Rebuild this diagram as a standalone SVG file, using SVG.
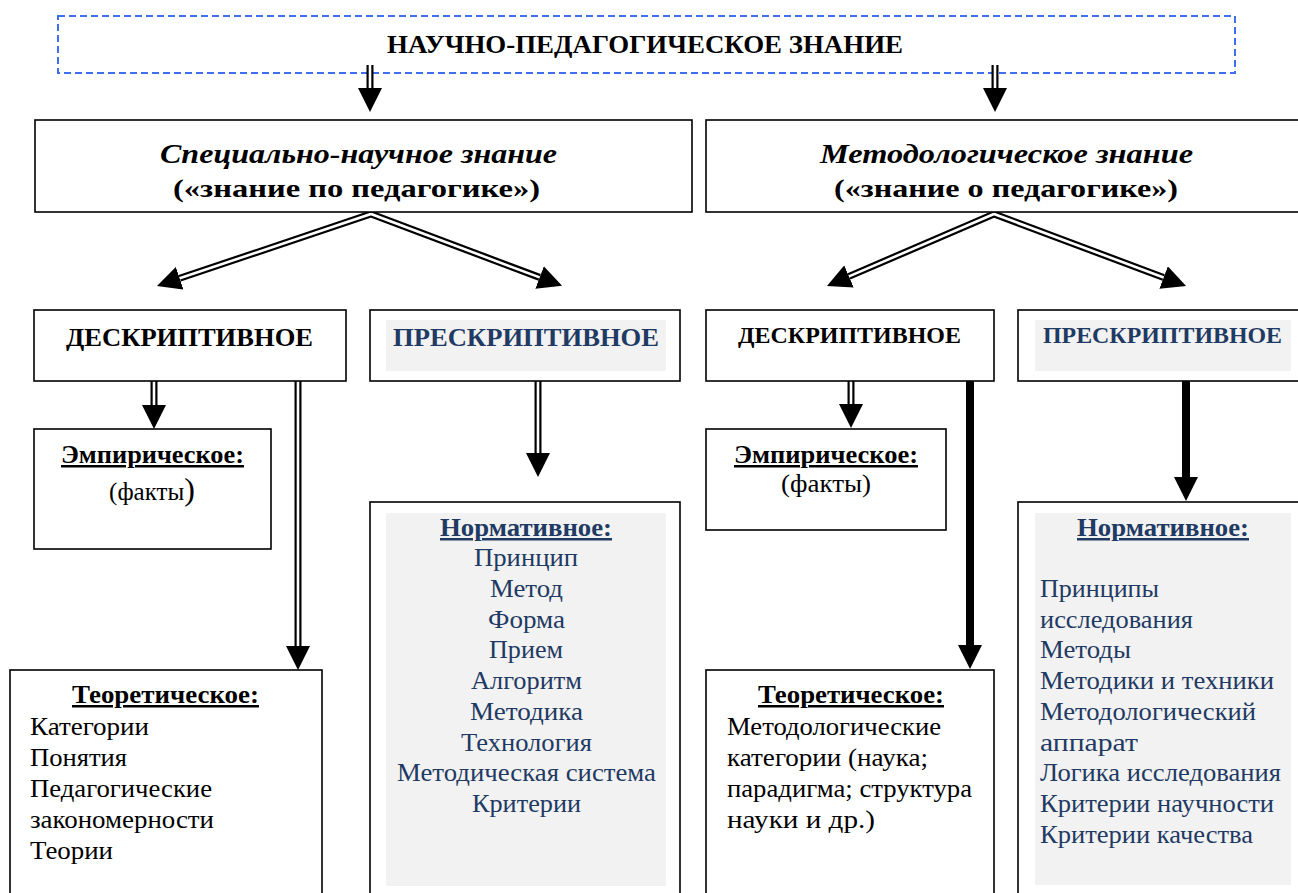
<svg xmlns="http://www.w3.org/2000/svg" width="1298" height="893" viewBox="0 0 1298 893">
  <defs>
    <!-- solid triangular arrowhead; the path end sits on its base -->
    <marker id="head" viewBox="0 -12 24 24" refX="0" refY="0" markerWidth="24" markerHeight="24" markerUnits="userSpaceOnUse" orient="auto-start-reverse">
      <path d="M0,-12 L24,0 L0,12 z" fill="#000"/>
    </marker>
  </defs>
  <style>
    .box{fill:#fff;stroke:#000;stroke-width:1.6}
    .shade{fill:#f2f2f2}
    .t{font-family:"Liberation Serif","Times New Roman",serif;font-size:25px;fill:#000}
    .b{font-weight:bold}
    .i{font-style:italic}
    .u{text-decoration:underline}
    .blue{fill:#1f3a63}
    .c{text-anchor:middle}
    .dbl-o{fill:none;stroke:#000;stroke-width:7}
    .dbl-i{fill:none;stroke:#fff;stroke-width:2.6}
    .thick{fill:none;stroke:#000;stroke-width:8}
  </style>

  <rect width="1298" height="893" fill="#fff"/>

  <!-- root heading -->
  <g id="root">
    <rect x="58" y="16" width="1177" height="57" fill="none" stroke="#3f6ef0" stroke-width="2" stroke-dasharray="7 4"/>
    <text class="t b c" x="645" y="53" textLength="516" lengthAdjust="spacingAndGlyphs">НАУЧНО-ПЕДАГОГИЧЕСКОЕ ЗНАНИЕ</text>
  </g>

  <!-- connectors -->
  <g id="connectors">
    <!-- double-line arrows: black outer stroke, white core -->
    <path class="dbl-o" d="M370,65 V88" marker-end="url(#head)"/>
    <path class="dbl-i" d="M370,65 V88"/>
    <path class="dbl-o" d="M995,65 V88" marker-end="url(#head)"/>
    <path class="dbl-i" d="M995,65 V88"/>

    <path class="dbl-o" d="M179.7,278.3 L371,214 L539.6,277.4" marker-start="url(#head)" marker-end="url(#head)"/>
    <path class="dbl-i" d="M179.7,278.3 L371,214 L539.6,277.4"/>
    <path class="dbl-o" d="M849,276.4 L994,214 L1163.6,277.5" marker-start="url(#head)" marker-end="url(#head)"/>
    <path class="dbl-i" d="M849,276.4 L994,214 L1163.6,277.5"/>

    <path class="dbl-o" d="M154,381 V405" marker-end="url(#head)"/>
    <path class="dbl-i" d="M154,381 V405"/>
    <path class="dbl-o" d="M298,381 V646" marker-end="url(#head)"/>
    <path class="dbl-i" d="M298,381 V646"/>
    <path class="dbl-o" d="M538,381 V453" marker-end="url(#head)"/>
    <path class="dbl-i" d="M538,381 V453"/>
    <path class="dbl-o" d="M851,381 V404" marker-end="url(#head)"/>
    <path class="dbl-i" d="M851,381 V404"/>

    <!-- heavy single-line arrows -->
    <path class="thick" d="M970,381 V645" marker-end="url(#head)"/>
    <path class="thick" d="M1186,381 V477" marker-end="url(#head)"/>
  </g>

  <g id="special">
    <rect class="box" x="35" y="120" width="657" height="92"/>
    <text class="t b i c" x="358.5" y="163" style="font-size:27px" textLength="397" lengthAdjust="spacingAndGlyphs">Специально-научное знание</text>
    <text class="t b c" x="356.5" y="197" style="font-size:26px" textLength="367" lengthAdjust="spacingAndGlyphs">(«знание по педагогике»)</text>
  </g>

  <g id="method">
    <rect class="box" x="706" y="120" width="600" height="92"/>
    <text class="t b i c" x="1006.5" y="163" style="font-size:27px" textLength="373" lengthAdjust="spacingAndGlyphs">Методологическое знание</text>
    <text class="t b c" x="1006" y="197" style="font-size:26px" textLength="344" lengthAdjust="spacingAndGlyphs">(«знание о педагогике»)</text>
  </g>

  <g id="desc-left">
    <rect class="box" x="34" y="310" width="312" height="71"/>
    <text class="t b c" x="189.5" y="346" textLength="247" lengthAdjust="spacingAndGlyphs">ДЕСКРИПТИВНОЕ</text>
  </g>

  <g id="presc-left">
    <rect class="box" x="370" y="310" width="310" height="71"/>
    <rect class="shade" x="386" y="320" width="280" height="51"/>
    <text class="t b c blue" x="526" y="346" textLength="266" lengthAdjust="spacingAndGlyphs">ПРЕСКРИПТИВНОЕ</text>
  </g>

  <g id="desc-right">
    <rect class="box" x="706" y="310" width="288" height="71"/>
    <text class="t b c" x="849.5" y="343" style="font-size:23px" textLength="223" lengthAdjust="spacingAndGlyphs">ДЕСКРИПТИВНОЕ</text>
  </g>

  <g id="presc-right">
    <rect class="box" x="1018" y="310" width="290" height="71"/>
    <rect class="shade" x="1035" y="320" width="256" height="51"/>
    <text class="t b c blue" x="1162.5" y="343" style="font-size:23px" textLength="239" lengthAdjust="spacingAndGlyphs">ПРЕСКРИПТИВНОЕ</text>
  </g>

  <g id="emp-left">
    <rect class="box" x="34" y="429" width="237" height="120"/>
    <text class="t b u c" x="152.5" y="463" textLength="183" lengthAdjust="spacingAndGlyphs">Эмпирическое:</text>
    <text class="t c" x="152" y="500">(факты<tspan style="font-size:32px">)</tspan></text>
  </g>

  <g id="emp-right">
    <rect class="box" x="706" y="429" width="240" height="101"/>
    <text class="t b u c" x="826" y="463" textLength="184" lengthAdjust="spacingAndGlyphs">Эмпирическое:</text>
    <text class="t c" x="826" y="492" textLength="90" lengthAdjust="spacingAndGlyphs">(факты)</text>
  </g>

  <g id="norm-left">
    <rect class="box" x="370" y="502" width="310" height="400"/>
    <rect class="shade" x="386" y="513" width="280" height="373"/>
    <g class="t c blue">
      <text class="b u" x="526" y="536" textLength="172" lengthAdjust="spacingAndGlyphs">Нормативное:</text>
      <text x="526" y="566" textLength="104" lengthAdjust="spacingAndGlyphs">Принцип</text>
      <text x="526.5" y="597" textLength="73" lengthAdjust="spacingAndGlyphs">Метод</text>
      <text x="526.5" y="628" textLength="77" lengthAdjust="spacingAndGlyphs">Форма</text>
      <text x="526" y="658" textLength="74" lengthAdjust="spacingAndGlyphs">Прием</text>
      <text x="526.5" y="689" textLength="111" lengthAdjust="spacingAndGlyphs">Алгоритм</text>
      <text x="526.5" y="720" textLength="113" lengthAdjust="spacingAndGlyphs">Методика</text>
      <text x="526.5" y="751" textLength="131" lengthAdjust="spacingAndGlyphs">Технология</text>
      <text x="526.5" y="781" textLength="259" lengthAdjust="spacingAndGlyphs">Методическая система</text>
      <text x="526.5" y="812" textLength="109" lengthAdjust="spacingAndGlyphs">Критерии</text>
    </g>
  </g>

  <g id="norm-right">
    <rect class="box" x="1018" y="502" width="290" height="400"/>
    <rect class="shade" x="1035" y="513" width="256" height="372"/>
    <g class="t blue">
      <text class="b u c" x="1163" y="536" textLength="172" lengthAdjust="spacingAndGlyphs">Нормативное:</text>
      <text x="1040" y="597" textLength="119" lengthAdjust="spacingAndGlyphs">Принципы</text>
      <text x="1040" y="628" textLength="153" lengthAdjust="spacingAndGlyphs">исследования</text>
      <text x="1040" y="658" textLength="91" lengthAdjust="spacingAndGlyphs">Методы</text>
      <text x="1040" y="689" textLength="234" lengthAdjust="spacingAndGlyphs">Методики и техники</text>
      <text x="1040" y="720" textLength="216" lengthAdjust="spacingAndGlyphs">Методологический</text>
      <text x="1040" y="751" textLength="98" lengthAdjust="spacingAndGlyphs">аппарат</text>
      <text x="1040" y="781" textLength="241" lengthAdjust="spacingAndGlyphs">Логика исследования</text>
      <text x="1040" y="812" textLength="234" lengthAdjust="spacingAndGlyphs">Критерии научности</text>
      <text x="1040" y="843" textLength="213" lengthAdjust="spacingAndGlyphs">Критерии качества</text>
    </g>
  </g>

  <g id="teor-left">
    <rect class="box" x="10" y="670" width="312" height="240"/>
    <g class="t">
      <text class="b u c" x="165.5" y="703" textLength="187" lengthAdjust="spacingAndGlyphs">Теоретическое:</text>
      <text x="30" y="735" textLength="119" lengthAdjust="spacingAndGlyphs">Категории</text>
      <text x="30" y="766" textLength="97" lengthAdjust="spacingAndGlyphs">Понятия</text>
      <text x="30" y="797" textLength="182" lengthAdjust="spacingAndGlyphs">Педагогические</text>
      <text x="30" y="828" textLength="184" lengthAdjust="spacingAndGlyphs">закономерности</text>
      <text x="30" y="859" textLength="83" lengthAdjust="spacingAndGlyphs">Теории</text>
    </g>
  </g>

  <g id="teor-right">
    <rect class="box" x="706" y="670" width="288" height="240"/>
    <g class="t">
      <text class="b u c" x="851" y="703" textLength="186" lengthAdjust="spacingAndGlyphs">Теоретическое:</text>
      <text x="727" y="735" textLength="214" lengthAdjust="spacingAndGlyphs">Методологические</text>
      <text x="727" y="766" textLength="201" lengthAdjust="spacingAndGlyphs">категории (наука;</text>
      <text x="727" y="797" textLength="245" lengthAdjust="spacingAndGlyphs">парадигма; структура</text>
      <text x="727" y="828" textLength="148" lengthAdjust="spacingAndGlyphs">науки и др.)</text>
    </g>
  </g>
</svg>
